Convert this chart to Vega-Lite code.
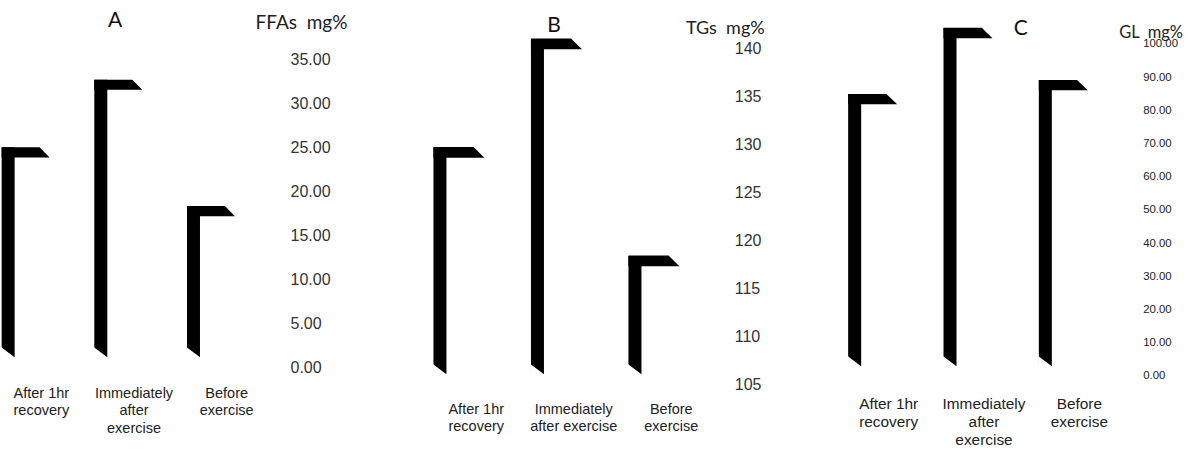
{
  "$schema": "https://vega.github.io/schema/vega-lite/v6.json",
  "padding": 0,
  "background": "white",
  "bounds": "flush",
  "spacing": 120.5,
  "config": {
    "view": {"stroke": null},
    "axis": {"grid": false, "domain": false, "ticks": false}
  },
  "data": {
    "values": [
      {"panel": "A", "cat": "After 1hr recovery", "value": 23.9},
      {"panel": "A", "cat": "Immediately after exercise", "value": 31.6},
      {"panel": "A", "cat": "Before exercise", "value": 17.2},
      {"panel": "B", "cat": "After 1hr recovery", "value": 128.6},
      {"panel": "B", "cat": "Immediately after exercise", "value": 139.9},
      {"panel": "B", "cat": "Before exercise", "value": 117.3},
      {"panel": "C", "cat": "After 1hr recovery", "value": 81.9},
      {"panel": "C", "cat": "Immediately after exercise", "value": 101.8},
      {"panel": "C", "cat": "Before exercise", "value": 86.1}
    ]
  },
  "hconcat": [
    {
      "width": 306.75,
      "height": 375,
      "title": {"text": "A", "anchor": "start", "frame": "group", "dx": 108, "offset": -48, "baseline": "alphabetic", "font": "Lato", "fontSize": 21, "fontWeight": "normal", "color": "#111"},
      "transform": [{"filter": "datum.panel == 'A'"}],
      "encoding": {
        "x": {
          "field": "cat", "type": "nominal", "sort": null,
          "scale": {"paddingInner": 0, "paddingOuter": 0.155, "align": 0},
          "axis": {"title": null, "labelAngle": 0, "labelPadding": 11, "labelOffset": -5, "labelFont": "Liberation Sans", "labelFontSize": 14.5, "labelLineHeight": 17.5, "labelColor": "#222", "labelLimit": 200,
            "labelExpr": "datum.value == 'After 1hr recovery' ? ['After 1hr','recovery'] : datum.value == 'Immediately after exercise' ? ['Immediately','after','exercise'] : ['Before','exercise']"}
        },
        "y": {
          "field": "value", "type": "quantitative",
          "scale": {"domain": [-0.912, 41.84], "nice": false, "zero": false},
          "axis": {"orient": "right", "values": [0, 5, 10, 15, 20, 25, 30, 35], "format": ".2f", "offset": -16.75, "labelPadding": 0, "labelFont": "Liberation Sans", "labelFontSize": 16, "labelColor": "#333",
            "title": "FFAs\u00a0\u00a0mg%", "titleAngle": 0, "titleX": -35, "titleY": 28, "titleAlign": "left", "titleBaseline": "alphabetic", "titleFont": "Lato", "titleFontSize": 19, "titleFontWeight": "normal", "titleColor": "#222"}
        }
      },
      "layer": [
        {"mark": {"type": "bar", "width": 13, "xOffset": -38.2, "yOffset": -10, "y2Offset": -10, "color": "black"}, "encoding": {"y2": {"datum": 0}}},
        {"mark": {"type": "point", "shape": "M-1,-0.21L0.58,-0.21L1,0.21L-1,0.21Z", "size": 2304, "filled": true, "color": "black", "opacity": 1, "strokeWidth": 0, "xOffset": -20.7, "yOffset": -5}},
        {"mark": {"type": "point", "shape": "M-1.1,-0.8L-1.1,0.85L1.1,0.85Z", "size": 169, "filled": true, "color": "white", "opacity": 1, "strokeWidth": 0, "xOffset": -38.2, "yOffset": -14.75}, "encoding": {"y": {"datum": 0, "type": "quantitative"}}}
      ]
    },
    {
      "width": 292.5,
      "height": 392,
      "title": {"text": "B", "anchor": "start", "frame": "group", "dx": 119.75, "offset": -53, "baseline": "alphabetic", "font": "Lato", "fontSize": 21, "fontWeight": "normal", "color": "#111"},
      "transform": [{"filter": "datum.panel == 'B'"}],
      "encoding": {
        "x": {
          "field": "cat", "type": "nominal", "sort": null,
          "scale": {"paddingInner": 0, "paddingOuter": 0},
          "axis": {"title": null, "labelAngle": 0, "labelPadding": 10, "labelFont": "Liberation Sans", "labelFontSize": 14.5, "labelLineHeight": 17, "labelColor": "#222", "labelLimit": 200,
            "labelExpr": "datum.value == 'After 1hr recovery' ? ['After 1hr','recovery'] : datum.value == 'Immediately after exercise' ? ['Immediately','after exercise'] : ['Before','exercise']"}
        },
        "y": {
          "field": "value", "type": "quantitative",
          "scale": {"domain": [104.167, 145], "nice": false, "zero": false},
          "axis": {"orient": "right", "values": [105, 110, 115, 120, 125, 130, 135, 140], "format": "d", "labelPadding": 14.25, "labelFont": "Liberation Sans", "labelFontSize": 16, "labelColor": "#333",
            "title": "TGs\u00a0\u00a0mg%", "titleAngle": 0, "titleX": -34.5, "titleY": 33, "titleAlign": "left", "titleBaseline": "alphabetic", "titleFont": "Lato", "titleFontSize": 18, "titleFontWeight": "normal", "titleColor": "#222"}
        }
      },
      "layer": [
        {"mark": {"type": "bar", "width": 13, "xOffset": -36.3, "yOffset": -10, "y2Offset": -10, "color": "black"}, "encoding": {"y2": {"datum": 105}}},
        {"mark": {"type": "point", "shape": "M-1,-0.21L0.57,-0.21L1,0.21L-1,0.21Z", "size": 2601, "filled": true, "color": "black", "opacity": 1, "strokeWidth": 0, "xOffset": -17.3, "yOffset": -5}},
        {"mark": {"type": "point", "shape": "M-1.1,-0.8L-1.1,0.85L1.1,0.85Z", "size": 169, "filled": true, "color": "white", "opacity": 1, "strokeWidth": 0, "xOffset": -36.3, "yOffset": -14.75}, "encoding": {"y": {"datum": 105, "type": "quantitative"}}}
      ]
    },
    {
      "width": 286,
      "height": 380,
      "title": {"text": "C", "anchor": "start", "frame": "group", "dx": 172.7, "offset": -56, "baseline": "alphabetic", "font": "Lato", "fontSize": 21, "fontWeight": "normal", "color": "#111"},
      "transform": [{"filter": "datum.panel == 'C'"}],
      "encoding": {
        "x": {
          "field": "cat", "type": "nominal", "sort": null,
          "scale": {"paddingInner": 0, "paddingOuter": 0},
          "axis": {"title": null, "labelAngle": 0, "labelPadding": 16, "labelFont": "Liberation Sans", "labelFontSize": 15.4, "labelLineHeight": 18.3, "labelColor": "#222", "labelLimit": 200,
            "labelExpr": "datum.value == 'After 1hr recovery' ? ['After 1hr','recovery'] : datum.value == 'Immediately after exercise' ? ['Immediately','after','exercise'] : ['Before','exercise']"}
        },
        "y": {
          "field": "value", "type": "quantitative",
          "scale": {"domain": [-1.205, 113.25], "nice": false, "zero": false},
          "axis": {"orient": "right", "values": [0, 10, 20, 30, 40, 50, 60, 70, 80, 90, 100], "format": ".2f", "labelPadding": 15.7, "labelFont": "Liberation Sans", "labelFontSize": 11.4, "labelColor": "#222",
            "title": "GL\u00a0\u00a0mg%", "titleAngle": 0, "titleX": -8.3, "titleY": 37, "titleAlign": "left", "titleBaseline": "alphabetic", "titleFont": "Lato", "titleFontSize": 16.5, "titleFontWeight": "normal", "titleColor": "#222"}
        }
      },
      "layer": [
        {"mark": {"type": "bar", "width": 13, "xOffset": -34, "yOffset": -10, "y2Offset": -10, "color": "black"}, "encoding": {"y2": {"datum": 0}}},
        {"mark": {"type": "point", "shape": "M-1,-0.21L0.56,-0.21L1,0.21L-1,0.21Z", "size": 2401, "filled": true, "color": "black", "opacity": 1, "strokeWidth": 0, "xOffset": -16, "yOffset": -5}},
        {"mark": {"type": "point", "shape": "M-1.1,-0.8L-1.1,0.85L1.1,0.85Z", "size": 169, "filled": true, "color": "white", "opacity": 1, "strokeWidth": 0, "xOffset": -34, "yOffset": -14.75}, "encoding": {"y": {"datum": 0, "type": "quantitative"}}}
      ]
    }
  ]
}
